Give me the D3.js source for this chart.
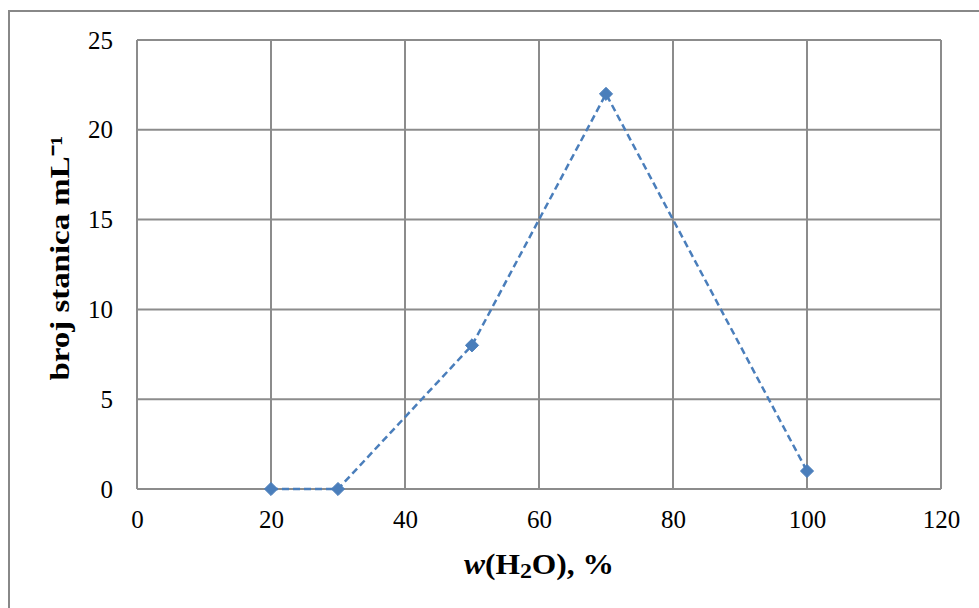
<!DOCTYPE html>
<html>
<head>
<meta charset="utf-8">
<script src="https://cdn.jsdelivr.net/npm/d3@7"></script>
<style>
  body { margin: 0; background: #fff; }
  text { font-family: "Liberation Serif", "Times New Roman", serif; fill: #000; }
</style>
</head>
<body>
<svg id="chart" width="979" height="608"></svg>
<script>
const xValues = [20, 30, 50, 70, 100];
const cellCounts = [0, 0, 8, 22, 1];
const xTicks = [0, 20, 40, 60, 80, 100, 120];
const yTicks = [0, 5, 10, 15, 20, 25];

const MARGIN = {top: 40, right: 38, bottom: 119, left: 137};
const svg = d3.select("#chart");
const width = +svg.attr("width");
const height = +svg.attr("height");

// outer frame, runs off the right and bottom edges
svg.append("rect")
    .attr("x", 9).attr("y", 11)
    .attr("width", 980).attr("height", 610)
    .attr("fill", "none")
    .attr("stroke", "#888")
    .attr("stroke-width", 2);

const x = d3.scaleLinear().domain([0, 120]).range([MARGIN.left, width - MARGIN.right]);
const y = d3.scaleLinear().domain([0, 25]).range([height - MARGIN.bottom, MARGIN.top]);

const grid = svg.append("g").attr("stroke", "#8c8c8c").attr("stroke-width", 2);
grid.selectAll(".hx").data(yTicks).join("line")
    .attr("x1", x(0)).attr("x2", x(120))
    .attr("y1", d => y(d)).attr("y2", d => y(d));
grid.selectAll(".vx").data(xTicks).join("line")
    .attr("y1", y(0)).attr("y2", y(25))
    .attr("x1", d => x(d)).attr("x2", d => x(d));

// tick labels
const xAxis = d3.axisBottom(x).tickValues(xTicks).tickSize(0).tickPadding(21);
svg.append("g")
    .attr("transform", `translate(0, ${y(0)})`)
    .call(xAxis)
    .call(g => g.select(".domain").remove())
    .selectAll("text")
    .style("font-family", "Liberation Serif, serif")
    .style("font-size", "25px")
    .attr("fill", "#000");

const yAxis = d3.axisLeft(y).tickValues(yTicks).tickSize(0).tickPadding(24);
svg.append("g")
    .attr("transform", `translate(${x(0)}, 0)`)
    .call(yAxis)
    .call(g => g.select(".domain").remove())
    .selectAll("text")
    .style("font-family", "Liberation Serif, serif")
    .style("font-size", "25px")
    .attr("fill", "#000");

// series
const points = xValues.map((v, i) => [v, cellCounts[i]]);
const line = d3.line().x(d => x(d[0])).y(d => y(d[1]));

svg.append("path")
    .datum(points)
    .attr("d", line)
    .attr("fill", "none")
    .attr("stroke", "#4a7ebb")
    .attr("stroke-width", 2.5)
    .attr("stroke-dasharray", "7,4");

svg.selectAll(".pt").data(points).join("path")
    .attr("transform", d => `translate(${x(d[0])}, ${y(d[1])})`)
    .attr("d", d3.symbol(d3.symbolDiamond2, 110)())
    .attr("fill", "#4a7ebb")
    .attr("stroke", "#4a7ebb")
    .attr("stroke-width", 1);

// axis titles
svg.append("text")
    .attr("x", (x(0) + x(120)) / 2)
    .attr("y", 574)
    .attr("text-anchor", "middle")
    .attr("textLength", 150)
    .attr("lengthAdjust", "spacingAndGlyphs")
    .style("font-size", "29px")
    .style("font-weight", "bold")
    .html('<tspan font-style="italic">w</tspan>(H<tspan font-size="22px" dy="4">2</tspan><tspan dy="-4">O), %</tspan>');

svg.append("text")
    .attr("transform", `translate(69, 258) rotate(-90)`)
    .attr("text-anchor", "middle")
    .attr("textLength", 245)
    .attr("lengthAdjust", "spacingAndGlyphs")
    .style("font-size", "27px")
    .style("font-weight", "bold")
    .text("broj stanica mL⁻¹");
</script>
</body>
</html>
